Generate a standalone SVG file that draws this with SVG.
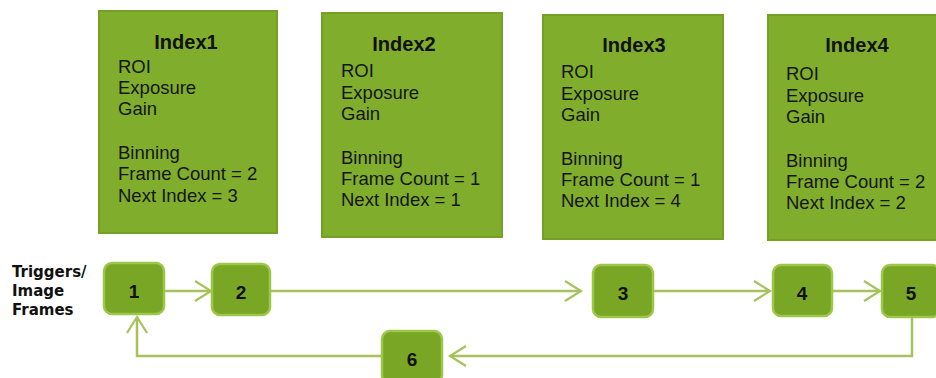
<svg xmlns="http://www.w3.org/2000/svg" width="936" height="378" viewBox="0 0 936 378">
<style>
.big{fill:#80ae2c;stroke:#74a023;stroke-width:2}
.sm{fill:#7aa626;stroke:#9cc749;stroke-width:2.5}
.title{font-family:"Liberation Sans",Arial,sans-serif;font-weight:bold;font-size:20px;fill:#111;text-anchor:middle}
.body{font-family:"Liberation Sans",Arial,sans-serif;font-size:18.5px;fill:#151515}
.num{font-family:"Liberation Sans",Arial,sans-serif;font-weight:bold;font-size:19px;fill:#111;text-anchor:middle}
.side{font-family:"DejaVu Sans",Verdana,sans-serif;font-weight:bold;font-size:15px;fill:#111}
.conn{fill:none;stroke:#a6c25e;stroke-width:2.5}
</style>
<defs>
<marker id="chev" markerUnits="userSpaceOnUse" viewBox="-20 -12 22 24" markerWidth="22" markerHeight="24" refX="0" refY="0" orient="auto" overflow="visible">
<path d="M-16,-10 L0,0 L-16,10" fill="none" stroke="#a6c25e" stroke-width="2.2"/>
</marker>
</defs>
<rect width="936" height="378" fill="#fff"/>
<g id="index1">
<rect class="big" x="99" y="11" width="178" height="222"/>
<text class="title" x="186" y="49">Index1</text>
<text class="body" x="118" y="73">ROI</text>
<text class="body" x="118" y="94">Exposure</text>
<text class="body" x="118" y="115">Gain</text>
<text class="body" x="118" y="159">Binning</text>
<text class="body" x="118" y="180">Frame Count = 2</text>
<text class="body" x="118" y="202">Next Index = 3</text>
</g>
<g id="index2">
<rect class="big" x="322" y="13" width="180" height="224"/>
<text class="title" x="404" y="51">Index2</text>
<text class="body" x="341" y="77">ROI</text>
<text class="body" x="341" y="99">Exposure</text>
<text class="body" x="341" y="120">Gain</text>
<text class="body" x="341" y="164">Binning</text>
<text class="body" x="341" y="185">Frame Count = 1</text>
<text class="body" x="341" y="206">Next Index = 1</text>
</g>
<g id="index3">
<rect class="big" x="543" y="15" width="180" height="224"/>
<text class="title" x="634" y="52">Index3</text>
<text class="body" x="561" y="78">ROI</text>
<text class="body" x="561" y="100">Exposure</text>
<text class="body" x="561" y="121">Gain</text>
<text class="body" x="561" y="165">Binning</text>
<text class="body" x="561" y="186">Frame Count = 1</text>
<text class="body" x="561" y="207">Next Index = 4</text>
</g>
<g id="index4">
<rect class="big" x="768" y="15" width="182" height="225"/>
<text class="title" x="857" y="52">Index4</text>
<text class="body" x="786" y="80">ROI</text>
<text class="body" x="786" y="102">Exposure</text>
<text class="body" x="786" y="123">Gain</text>
<text class="body" x="786" y="167">Binning</text>
<text class="body" x="786" y="188">Frame Count = 2</text>
<text class="body" x="786" y="209">Next Index = 2</text>
</g>
<g id="label">
<text class="side" x="12" y="277">Triggers/</text>
<text class="side" x="12" y="296">Image</text>
<text class="side" x="12" y="315">Frames</text>
</g>
<g id="connectors">
<line class="conn" x1="164" y1="291" x2="211" y2="291" marker-end="url(#chev)"/>
<line class="conn" x1="270" y1="291" x2="581" y2="291" marker-end="url(#chev)"/>
<line class="conn" x1="653" y1="291" x2="770" y2="291" marker-end="url(#chev)"/>
<line class="conn" x1="832" y1="291" x2="880" y2="291" marker-end="url(#chev)"/>
<path class="conn" d="M912,317 V356 H450" marker-end="url(#chev)"/>
<path class="conn" d="M382,356 H137 V317" marker-end="url(#chev)"/>
</g>
<g id="f1"><rect class="sm" x="104" y="263" width="60" height="51" rx="8"/><text class="num" x="134" y="298">1</text></g>
<g id="f2"><rect class="sm" x="212" y="264" width="58" height="51" rx="8"/><text class="num" x="241" y="299">2</text></g>
<g id="f3"><rect class="sm" x="593" y="265" width="60" height="52" rx="8"/><text class="num" x="623" y="300">3</text></g>
<g id="f4"><rect class="sm" x="773" y="265" width="59" height="51" rx="8"/><text class="num" x="802" y="300">4</text></g>
<g id="f5"><rect class="sm" x="882" y="265" width="58" height="52" rx="8"/><text class="num" x="911" y="300">5</text></g>
<g id="f6"><rect class="sm" x="382" y="331" width="60" height="52" rx="8"/><text class="num" x="412" y="366">6</text></g>
</svg>
